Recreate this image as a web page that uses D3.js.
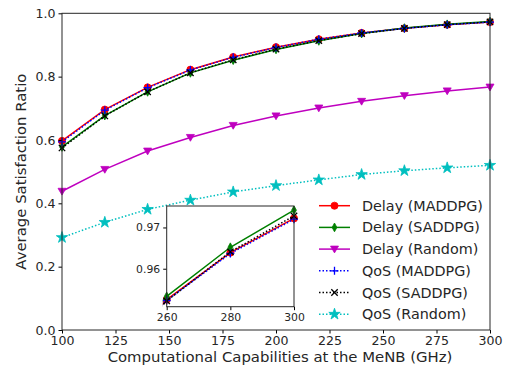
<!DOCTYPE html>
<html>
<head>
<meta charset="utf-8">
<script src="https://cdn.jsdelivr.net/npm/d3@7"></script>
<style>
  body { margin: 0; background: #fff; }
  text { font-family: "DejaVu Sans", sans-serif; fill: #262626; }
</style>
</head>
<body>
<div id="chart"></div>
<script>
const capabilities = [100, 120, 140, 160, 180, 200, 220, 240, 260, 280, 300];
const delayMaddpg = [0.597, 0.696, 0.766, 0.822, 0.862, 0.893, 0.918, 0.938, 0.9525, 0.9639, 0.9722];
const delaySaddpg = [0.578, 0.677, 0.752, 0.812, 0.852, 0.886, 0.913, 0.936, 0.9533, 0.9652, 0.9742];
const delayRandom = [0.438, 0.507, 0.565, 0.608, 0.646, 0.676, 0.701, 0.722, 0.740, 0.755, 0.767];
const qosMaddpg = [0.594, 0.694, 0.765, 0.821, 0.861, 0.892, 0.918, 0.938, 0.9523, 0.9637, 0.9720];
const qosSaddpg = [0.575, 0.676, 0.752, 0.812, 0.853, 0.887, 0.914, 0.936, 0.9522, 0.9641, 0.9728];
const qosRandom = [0.292, 0.340, 0.381, 0.410, 0.436, 0.456, 0.474, 0.491, 0.503, 0.512, 0.520];
const xTicks = [100, 125, 150, 175, 200, 225, 250, 275, 300];
const yTicks = [0.0, 0.2, 0.4, 0.6, 0.8, 1.0];
const insetXTicks = [260, 280, 300];
const insetYTicks = [0.96, 0.97];

const series = [
  { name: 'Delay (MADDPG)', values: delayMaddpg, color: '#ff0000', dash: null, marker: 'circle' },
  { name: 'Delay (SADDPG)', values: delaySaddpg, color: '#008000', dash: null, marker: 'diamond' },
  { name: 'Delay (Random)', values: delayRandom, color: '#bf00bf', dash: null, marker: 'tridown' },
  { name: 'QoS (MADDPG)', values: qosMaddpg, color: '#0000ff', dash: '1.5,2', marker: 'plus' },
  { name: 'QoS (SADDPG)', values: qosSaddpg, color: '#000000', dash: '1.5,2', marker: 'x' },
  { name: 'QoS (Random)', values: qosRandom, color: '#00bfbf', dash: '1.5,2', marker: 'star' }
];

const width = 505, height = 376;
const svg = d3.select('#chart').append('svg')
  .attr('width', width)
  .attr('height', height);

const plot = { left: 62, right: 490, top: 13.3, bottom: 330 };
const x = d3.scaleLinear().domain([100, 300]).range([plot.left, plot.right]);
const y = d3.scaleLinear().domain([0, 1]).range([plot.bottom, plot.top]);

// pick a font size so that the sample text spans the width seen in the picture
function fitSize(sample, target) {
  const t = svg.append('text').attr('font-size', 20).text(sample);
  const len = t.node().getComputedTextLength();
  t.remove();
  return 20 * target / len;
}
const tickSize = fitSize('0.4', 20);
const insetTickSize = fitSize('260', 20.7);
const labelSize = fitSize('Computational Capabilities at the MeNB (GHz)', 345);
const legendSize = fitSize('Delay (MADDPG)', 121);

function markerPath(type, s) {
  switch (type) {
    case 'circle': return d3.symbol(d3.symbolCircle, 40)();
    case 'diamond': return `M0,${-s * 1.1}L${s * 0.6},0L0,${s * 1.1}L${-s * 0.6},0Z`;
    case 'tridown': return `M${-s},${-s * 0.75}L${s},${-s * 0.75}L0,${s * 0.95}Z`;
    case 'plus': return `M${-s},0L${s},0M0,${-s}L0,${s}`;
    case 'x': return `M${-s * 0.8},${-s * 0.8}L${s * 0.8},${s * 0.8}M${-s * 0.8},${s * 0.8}L${s * 0.8},${-s * 0.8}`;
    case 'star': return d3.symbol(d3.symbolStar, 40)();
  }
}

function drawMarker(g, s, px, py, size) {
  const open = s.marker === 'plus' || s.marker === 'x';
  g.append('path')
    .attr('d', markerPath(s.marker, size))
    .attr('transform', `translate(${px},${py})`)
    .attr('fill', open ? 'none' : s.color)
    .attr('stroke', s.color)
    .attr('stroke-width', open ? 1.3 : 0.8);
}

function drawSeries(g, xs, ys, clipId) {
  const line = d3.line().x((d, i) => xs(capabilities[i])).y(d => ys(d));
  series.forEach(s => {
    const sg = g.append('g');
    if (clipId) sg.attr('clip-path', `url(#${clipId})`);
    sg.append('path')
      .datum(s.values)
      .attr('d', line)
      .attr('fill', 'none')
      .attr('stroke', s.color)
      .attr('stroke-width', 1.5)
      .attr('stroke-dasharray', s.dash);
    s.values.forEach((v, i) => {
      if (xs(capabilities[i]) < xs.range()[0] - 1) return;
      drawMarker(sg, s, xs(capabilities[i]), ys(v), 4);
    });
  });
}

// main axes
const main = svg.append('g');
drawSeries(main, x, y, null);

main.append('g')
  .attr('transform', `translate(0,${plot.bottom})`)
  .call(d3.axisBottom(x).tickValues(xTicks).tickFormat(d3.format('d')).tickSizeOuter(0).tickSize(3.5).tickPadding(3))
  .call(g => g.selectAll('text').attr('font-size', tickSize))
  .call(g => g.select('.domain').remove());

main.append('g')
  .attr('transform', `translate(${plot.left},0)`)
  .call(d3.axisLeft(y).tickValues(yTicks).tickFormat(d3.format('.1f')).tickSizeOuter(0).tickSize(3.5).tickPadding(3))
  .call(g => g.selectAll('text').attr('font-size', tickSize))
  .call(g => g.select('.domain').remove());

main.append('rect')
  .attr('x', plot.left).attr('y', plot.top)
  .attr('width', plot.right - plot.left).attr('height', plot.bottom - plot.top)
  .attr('fill', 'none').attr('stroke', '#262626').attr('stroke-width', 1);

svg.append('text')
  .attr('x', 280)
  .attr('y', 362)
  .attr('text-anchor', 'middle')
  .attr('font-size', labelSize)
  .text('Computational Capabilities at the MeNB (GHz)');

svg.append('text')
  .attr('transform', `translate(26,${(plot.top + plot.bottom) / 2}) rotate(-90)`)
  .attr('text-anchor', 'middle')
  .attr('font-size', labelSize)
  .text('Average Satisfaction Ratio');

// inset
const inset = { left: 166.7, right: 294, top: 206, bottom: 306.7 };
const xi = d3.scaleLinear().domain([260, 300]).range([inset.left, inset.right]);
const yi = d3.scaleLinear().domain([0.9508, 0.9752]).range([inset.bottom, inset.top]);

svg.append('defs').append('clipPath').attr('id', 'insetClip')
  .append('rect')
  .attr('x', inset.left - 4).attr('y', inset.top)
  .attr('width', inset.right - inset.left + 8).attr('height', inset.bottom - inset.top);

const ig = svg.append('g');
ig.append('rect')
  .attr('x', inset.left).attr('y', inset.top)
  .attr('width', inset.right - inset.left).attr('height', inset.bottom - inset.top)
  .attr('fill', '#fff');
drawSeries(ig, xi, yi, 'insetClip');

ig.append('g')
  .attr('transform', `translate(0,${inset.bottom})`)
  .call(d3.axisBottom(xi).tickValues(insetXTicks).tickFormat(d3.format('d')).tickSizeOuter(0).tickSize(3.5).tickPadding(3))
  .call(g => g.selectAll('text').attr('font-size', insetTickSize))
  .call(g => g.select('.domain').remove());

ig.append('g')
  .attr('transform', `translate(${inset.left},0)`)
  .call(d3.axisLeft(yi).tickValues(insetYTicks).tickFormat(d3.format('.2f')).tickSizeOuter(0).tickSize(3.5).tickPadding(3))
  .call(g => g.selectAll('text').attr('font-size', insetTickSize))
  .call(g => g.select('.domain').remove());

ig.append('rect')
  .attr('x', inset.left).attr('y', inset.top)
  .attr('width', inset.right - inset.left).attr('height', inset.bottom - inset.top)
  .attr('fill', 'none').attr('stroke', '#262626').attr('stroke-width', 1);

// legend
const legend = svg.append('g');
series.forEach((s, i) => {
  const ly = 205.7 + i * 21.7;
  legend.append('line')
    .attr('x1', 319).attr('x2', 350).attr('y1', ly).attr('y2', ly)
    .attr('stroke', s.color).attr('stroke-width', 1.5)
    .attr('stroke-dasharray', s.dash);
  drawMarker(legend, s, 334.5, ly, 4);
  legend.append('text')
    .attr('x', 362).attr('y', ly)
    .attr('dy', '0.35em')
    .attr('font-size', legendSize)
    .text(s.name);
});
</script>
</body>
</html>
